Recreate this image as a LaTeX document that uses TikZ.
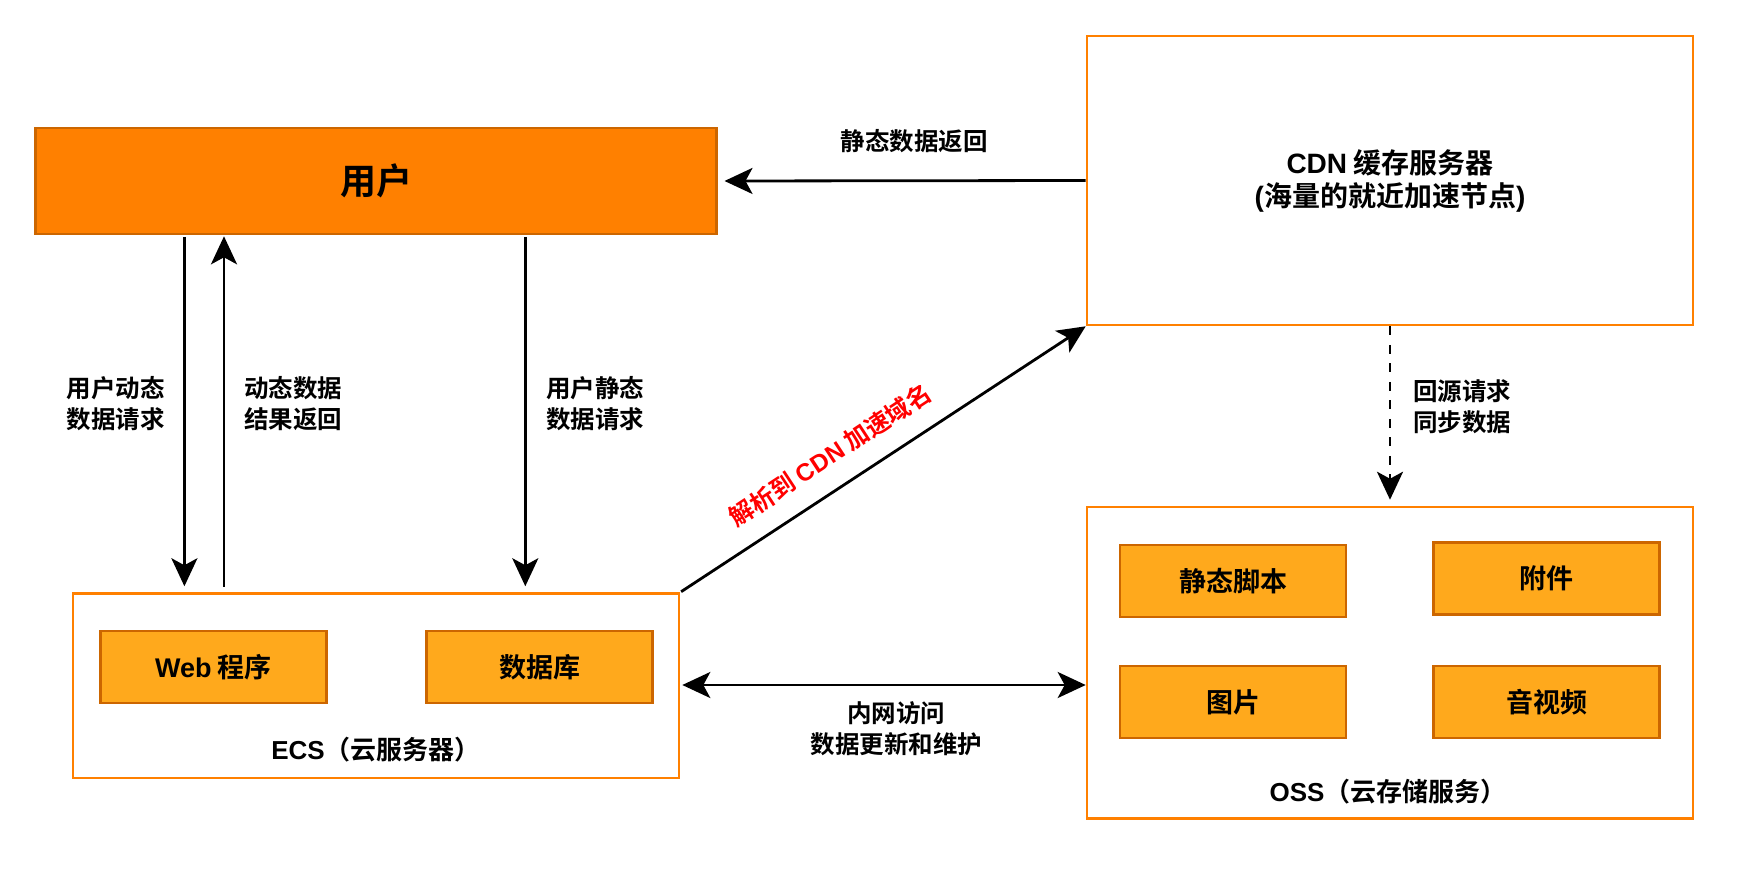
\documentclass[tikz,border=0pt]{standalone}
\usepackage{fontspec}
\setmainfont{Noto Sans CJK SC}[UprightFont=* Bold]
\newfontfamily\lat{Liberation Sans}[UprightFont=* Bold]
\usetikzlibrary{arrows.meta,calc}
\definecolor{borderorange}{HTML}{FF8000}
\definecolor{userfill}{HTML}{FF8000}
\definecolor{darkedge}{HTML}{CC6600}
\definecolor{itemfill}{HTML}{FFA91C}
\definecolor{redtext}{HTML}{FF0000}
\newcommand{\fsz}[2]{\fontsize{#1pt}{#2pt}\selectfont}
\tikzset{
  container/.style={draw=borderorange, line width=2.6pt, fill=white, rectangle, inner sep=0pt},
  userbox/.style={draw=darkedge, line width=2.6pt, fill=userfill, rectangle, inner sep=0pt, font=\fsz{36}{40}},
  item/.style={draw=darkedge, line width=2.6pt, fill=itemfill, rectangle, inner sep=0pt, minimum width=226pt, minimum height=72pt, font=\fsz{27}{32}},
  lbl/.style={align=center, inner sep=0pt, font=\fsz{24.5}{31}},
  tip/.tip={Stealth[length=28pt,width=26pt,inset=7pt]},
  arr/.style={-tip, line width=2.8pt},
  darr/.style={tip-tip, line width=2.8pt}
}
\begin{document}
\begin{tikzpicture}[x=1pt,y=-1pt]
\useasboundingbox (0,0) rectangle (1746,873);
% main boxes
\node[userbox, minimum width=681pt, minimum height=106pt] (user) at (376.2,181) {用户};
\node[container, minimum width=606pt, minimum height=289pt, align=center, font=\fsz{28}{33}] (cdn) at (1390,180.5) {{\lat CDN} 缓存服务器\\{\lat (}海量的就近加速节点{\lat )}};
\node[container, minimum width=606pt, minimum height=184.5pt] (ecs) at (376,685.8) {};
\node[container, minimum width=606pt, minimum height=311.5pt] (oss) at (1390,662.8) {};
% inner items
\node[item] (web) at (213.5,667) {{\lat Web} 程序};
\node[item] (db) at (539.5,667) {数据库};
\node[item] (js) at (1233,581) {静态脚本};
\node[item] (att) at (1546.5,578.5) {附件};
\node[item] (img) at (1233,702) {图片};
\node[item] (av) at (1546.5,702) {音视频};
\node[lbl, font=\fsz{26}{30}] (ecslbl) at (376,750) {{\lat ECS}（云服务器）};
\node[lbl, font=\fsz{26}{30}] (osslbl) at (1388,792) {{\lat OSS}（云存储服务）};
% helper coordinates
\coordinate (xa) at (184.4,0);
\coordinate (xb) at (224,0);
\coordinate (xc) at (525.3,0);
\coordinate (yd) at (0,685);
% connectors
\draw[arr, shorten >=6pt, shorten <=1.5pt] (user.south -| xa) -- (ecs.north -| xa);
\draw[arr, shorten <=5.5pt, shorten >=1pt] (ecs.north -| xb) -- (user.south -| xb);
\draw[arr, shorten >=6pt, shorten <=1.5pt] (user.south -| xc) -- (ecs.north -| xc);
\draw[arr, shorten >=6.5pt] (cdn.west) -- (user.east);
\draw[arr, dash pattern=on 9pt off 9.5pt, shorten >=6pt] (cdn.south) -- (oss.north);
\draw[arr, shorten <=1pt] (ecs.north east) -- (cdn.south west);
\draw[darr, shorten <=2pt] (ecs.east |- yd) -- (oss.west |- yd);
% labels
\node[lbl] (l1) at (914,141.4) {静态数据返回};
\node[lbl] (l2) at (1462,406.5) {回源请求\\同步数据};
\node[lbl] (l3) at (115.8,403.5) {用户动态\\数据请求};
\node[lbl] (l4) at (293.4,403.5) {动态数据\\结果返回};
\node[lbl] (l5) at (595,403.5) {用户静态\\数据请求};
\node[lbl] (l6) at (896.4,728.2) {内网访问\\数据更新和维护};
\node[lbl, text=redtext, rotate=33.3] (l7) at (830,455) {解析到 {\lat CDN} 加速域名};
\end{tikzpicture}
\end{document}
